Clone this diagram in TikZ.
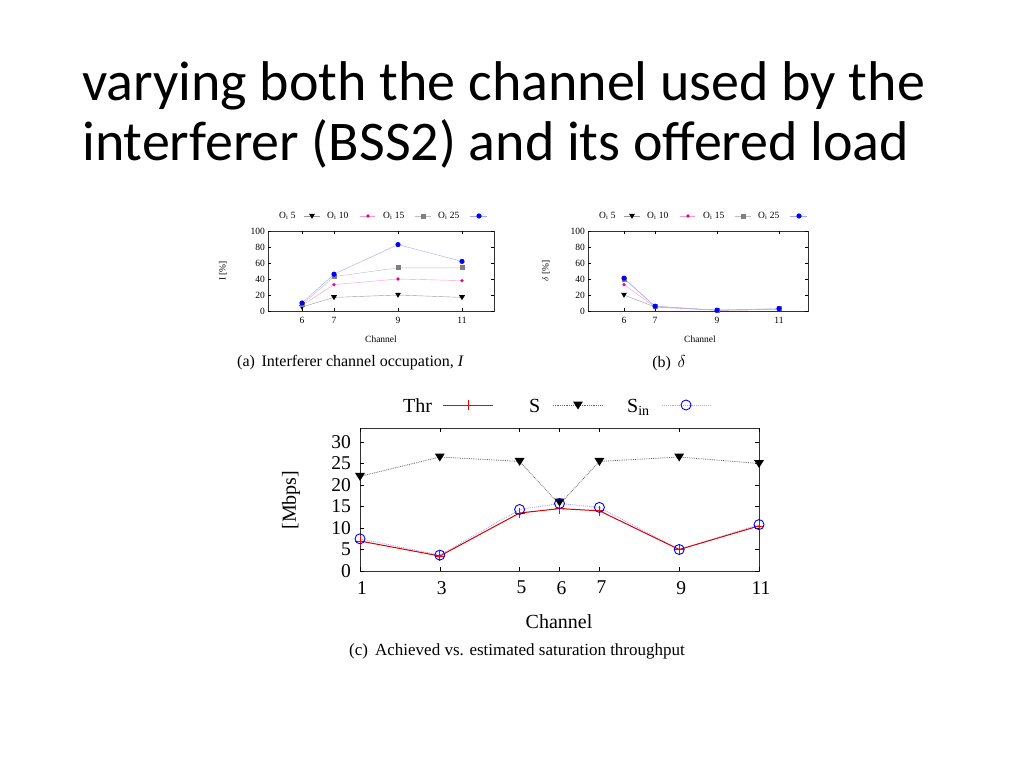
\documentclass[tikz,border=0pt]{standalone}
\usepackage{fontspec}
\setmainfont{Liberation Serif}
\newfontfamily\titlefont{Carlito}
\begin{document}
\begin{tikzpicture}[x=1pt,y=-1pt,
  tri/.style={fill=black,inner sep=0pt,minimum size=0pt},
  axisbox/.style={draw=black!80,line width=0.6pt},
  tick/.style={font=\fontsize{9.5}{10}\selectfont},
  ctick/.style={font=\fontsize{19.5}{21}\selectfont},
  clab/.style={font=\fontsize{20}{22}\selectfont}]
\useasboundingbox (0,0) rectangle (1024,768);
\node[anchor=base west,font=\titlefont\fontsize{56}{66}\selectfont,inner sep=0] (t1) at (82,100) {varying both the channel used by the};
\node[anchor=base west,font=\titlefont\fontsize{56}{66}\selectfont,inner sep=0] (t2) at (82,160) {interferer (BSS2) and its offered load};
% marker macros
\newcommand\mtri[2]{\fill[black] (#1,#2) ++(-3,-2.2) -- ++(6,0) -- ++(-3,5) -- cycle;}
\newcommand\mstar[2]{\fill[magenta] (#1,#2) circle (1.8);}
\newcommand\msq[2]{\fill[gray] (#1,#2) ++(-2.5,-2.5) rectangle ++(5,5);}
\newcommand\mdot[2]{\fill[blue] (#1,#2) circle (2.6);}
% ---------- plot (a)
\draw[axisbox] (268,231) rectangle (494,311);
\foreach \v in {0,20,...,100}{\draw (268,311-0.8*\v) -- ++(3,0); \draw (494,311-0.8*\v) -- ++(-3,0);
  \node[tick,anchor=east,inner sep=1pt] at (266,311-0.8*\v) {\v};}
\foreach \c in {6,7,9,11}{\draw (302+32*\c-192,311) -- ++(0,-3); \draw (302+32*\c-192,231) -- ++(0,3);
  \node[tick,anchor=north,inner sep=1pt] at (302+32*\c-192,316) {\c};}
\node[tick] at (381,339) {Channel};
\node[tick,rotate=90] at (223,271) {I [\%]};
\node[font=\fontsize{16}{18}\selectfont,anchor=west,inner sep=0] at (237,363) {(a)\, Interferer channel occupation, \textit{I}};
\draw[black!40] (302,307) -- (334,297.4) -- (398,295) -- (462,297.4);
\draw[magenta!40] (302,305.4) -- (334,284.6) -- (398,279) -- (462,280.6);
\draw[black!25] (302,304.6) -- (334,276.6) -- (398,267.8) -- (462,267.8);
\draw[blue!35] (302,303) -- (334,274.2) -- (398,244.6) -- (462,261.4);
\foreach \x/\y in {302/307,334/297.4,398/295,462/297.4}{\mtri{\x}{\y}}
\foreach \x/\y in {302/305.4,334/284.6,398/279,462/280.6}{\mstar{\x}{\y}}
\foreach \x/\y in {302/304.6,334/276.6,398/267.8,462/267.8}{\msq{\x}{\y}}
\foreach \x/\y in {302/303,334/274.2,398/244.6,462/261.4}{\mdot{\x}{\y}}
% legend (a)
\begin{scope}[shift={(0,216)}]
\node[tick,anchor=west,inner sep=0] at (279,0) {O\textsubscript{i} 5}; \draw[black!40] (304,0)--(320,0); \mtri{312}{0}
\node[tick,anchor=west,inner sep=0] at (327,0) {O\textsubscript{i} 10}; \draw[magenta!40] (360,0)--(375,0); \mstar{368}{0}
\node[tick,anchor=west,inner sep=0] at (383,0) {O\textsubscript{i} 15}; \draw[black!25] (415,0)--(431,0); \msq{423}{0}
\node[tick,anchor=west,inner sep=0] at (438,0) {O\textsubscript{i} 25}; \draw[blue!35] (470,0)--(487,0); \mdot{479}{0}
\end{scope}
% ---------- plot (b)
\draw[axisbox] (588,231) rectangle (808,311);
\foreach \v in {0,20,...,100}{\draw (588,311-0.8*\v) -- ++(3,0); \draw (808,311-0.8*\v) -- ++(-3,0);
  \node[tick,anchor=east,inner sep=1pt] at (586,311-0.8*\v) {\v};}
\foreach \c in {6,7,9,11}{\draw (624+31*\c-186,311) -- ++(0,-3); \draw (624+31*\c-186,231) -- ++(0,3);
  \node[tick,anchor=north,inner sep=1pt] at (624+31*\c-186,316) {\c};}
\node[tick] at (700,339) {Channel};
\node[tick,rotate=90] at (546,271) {$\delta$ [\%]};
\node[font=\fontsize{16}{18}\selectfont] at (669,363) {(b)\, $\delta$};
\draw[black!40] (624,295) -- (655,307) -- (717,310.2) -- (779,309.4);
\draw[magenta!40] (624,284.6) -- (655,307) -- (717,310.2) -- (779,309.4);
\draw[black!25] (624,279) -- (655,306.2) -- (717,310.2) -- (779,309.4);
\draw[blue!35] (624,278.2) -- (655,306.2) -- (717,310.2) -- (779,308.6);
\mtri{624}{295}\mstar{624}{284.6}\msq{624}{279}\mdot{624}{278.2}
\foreach \x/\y in {655/306.2,717/310.2,779/308.6}{\msq{\x}{\y}\mdot{\x}{\y}}
\begin{scope}[shift={(320,216)}]
\node[tick,anchor=west,inner sep=0] at (279,0) {O\textsubscript{i} 5}; \draw[black!40] (304,0)--(320,0); \mtri{312}{0}
\node[tick,anchor=west,inner sep=0] at (327,0) {O\textsubscript{i} 10}; \draw[magenta!40] (360,0)--(375,0); \mstar{368}{0}
\node[tick,anchor=west,inner sep=0] at (383,0) {O\textsubscript{i} 15}; \draw[black!25] (415,0)--(431,0); \msq{423}{0}
\node[tick,anchor=west,inner sep=0] at (438,0) {O\textsubscript{i} 25}; \draw[blue!35] (470,0)--(487,0); \mdot{479}{0}
\end{scope}
% ---------- plot (c)
\draw[axisbox,line width=0.9pt] (360,428) rectangle (759,571);
\foreach \v in {0,5,...,30}{\draw (360,571-4.3*\v) -- ++(4,0); \draw (759,571-4.3*\v) -- ++(-4,0);
  \node[ctick,anchor=east,inner sep=1pt] at (352,571-4.3*\v) {\v};}
\foreach \c in {1,3,5,6,7,9,11}{\draw (360+39.9*\c-39.9,571) -- ++(0,-4); \draw (360+39.9*\c-39.9,428) -- ++(0,4);
  \node[ctick,anchor=north,inner sep=1pt] at (362+39.9*\c-39.9,580) {\c};}
\node[clab] at (559,622) {Channel};
\node[clab,rotate=90] at (291,500) {[Mbps]};
\node[font=\fontsize{17}{19}\selectfont] at (517,651) {(c)\, Achieved vs. estimated saturation throughput};
\newcommand\ctri[2]{\fill[black] (#1,#2) ++(-5,-3.5) -- ++(10,0) -- ++(-5,8) -- cycle;}
\draw[black!60,densely dotted,line width=0.8pt] (360,476.4) -- (439.8,457) -- (519.6,461.4) -- (559.5,504.4) -- (599.4,461.4) -- (679.2,457) -- (759,463.5);
\draw[blue!35,densely dotted,line width=0.9pt] (360,538.8) -- (439.8,555.1) -- (519.6,509.5) -- (559.5,503.5) -- (599.4,507.4) -- (679.2,549.5) -- (759,524.6);
\draw[red!85!black,line width=1pt] (360,541) -- (439.8,556) -- (519.6,513) -- (559.5,508.6) -- (599.4,510.8) -- (679.2,549.5) -- (759,525.9);
\foreach \x/\y in {360/541,439.8/556,519.6/513,559.5/508.6,599.4/510.8,679.2/549.5,759/525.9}{\draw[red,line width=0.8pt] (\x-5,\y)--(\x+5,\y) (\x,\y-5)--(\x,\y+5);}
\foreach \x/\y in {360/476.4,439.8/457,519.6/461.4,559.5/502,599.4/461.4,679.2/457,759/463.5}{\ctri{\x}{\y}}
\foreach \x/\y in {360/538.8,439.8/555.1,519.6/509.5,559.5/503.5,599.4/507.4,679.2/549.5,759/524.6}{\draw[blue,line width=0.9pt] (\x,\y) circle (5);}
% legend (c)
\node[clab,anchor=base west,inner sep=0] at (403,412) {Thr};
\draw[red,line width=1pt] (443,405) -- (493,405); \draw[red,line width=0.8pt] (468,400)--(468,410);
\node[clab,anchor=base west,inner sep=0] at (529,412) {S};
\draw[black!60,densely dotted,line width=0.8pt] (553,405) -- (603,405); \ctri{578}{405}
\node[clab,anchor=base west,inner sep=0] at (627,412) {S\textsubscript{in}};
\draw[blue!35,densely dotted,line width=0.9pt] (662,405) -- (711,405); \draw[blue,line width=0.9pt] (686,405) circle (5);
\end{tikzpicture}
\end{document}
